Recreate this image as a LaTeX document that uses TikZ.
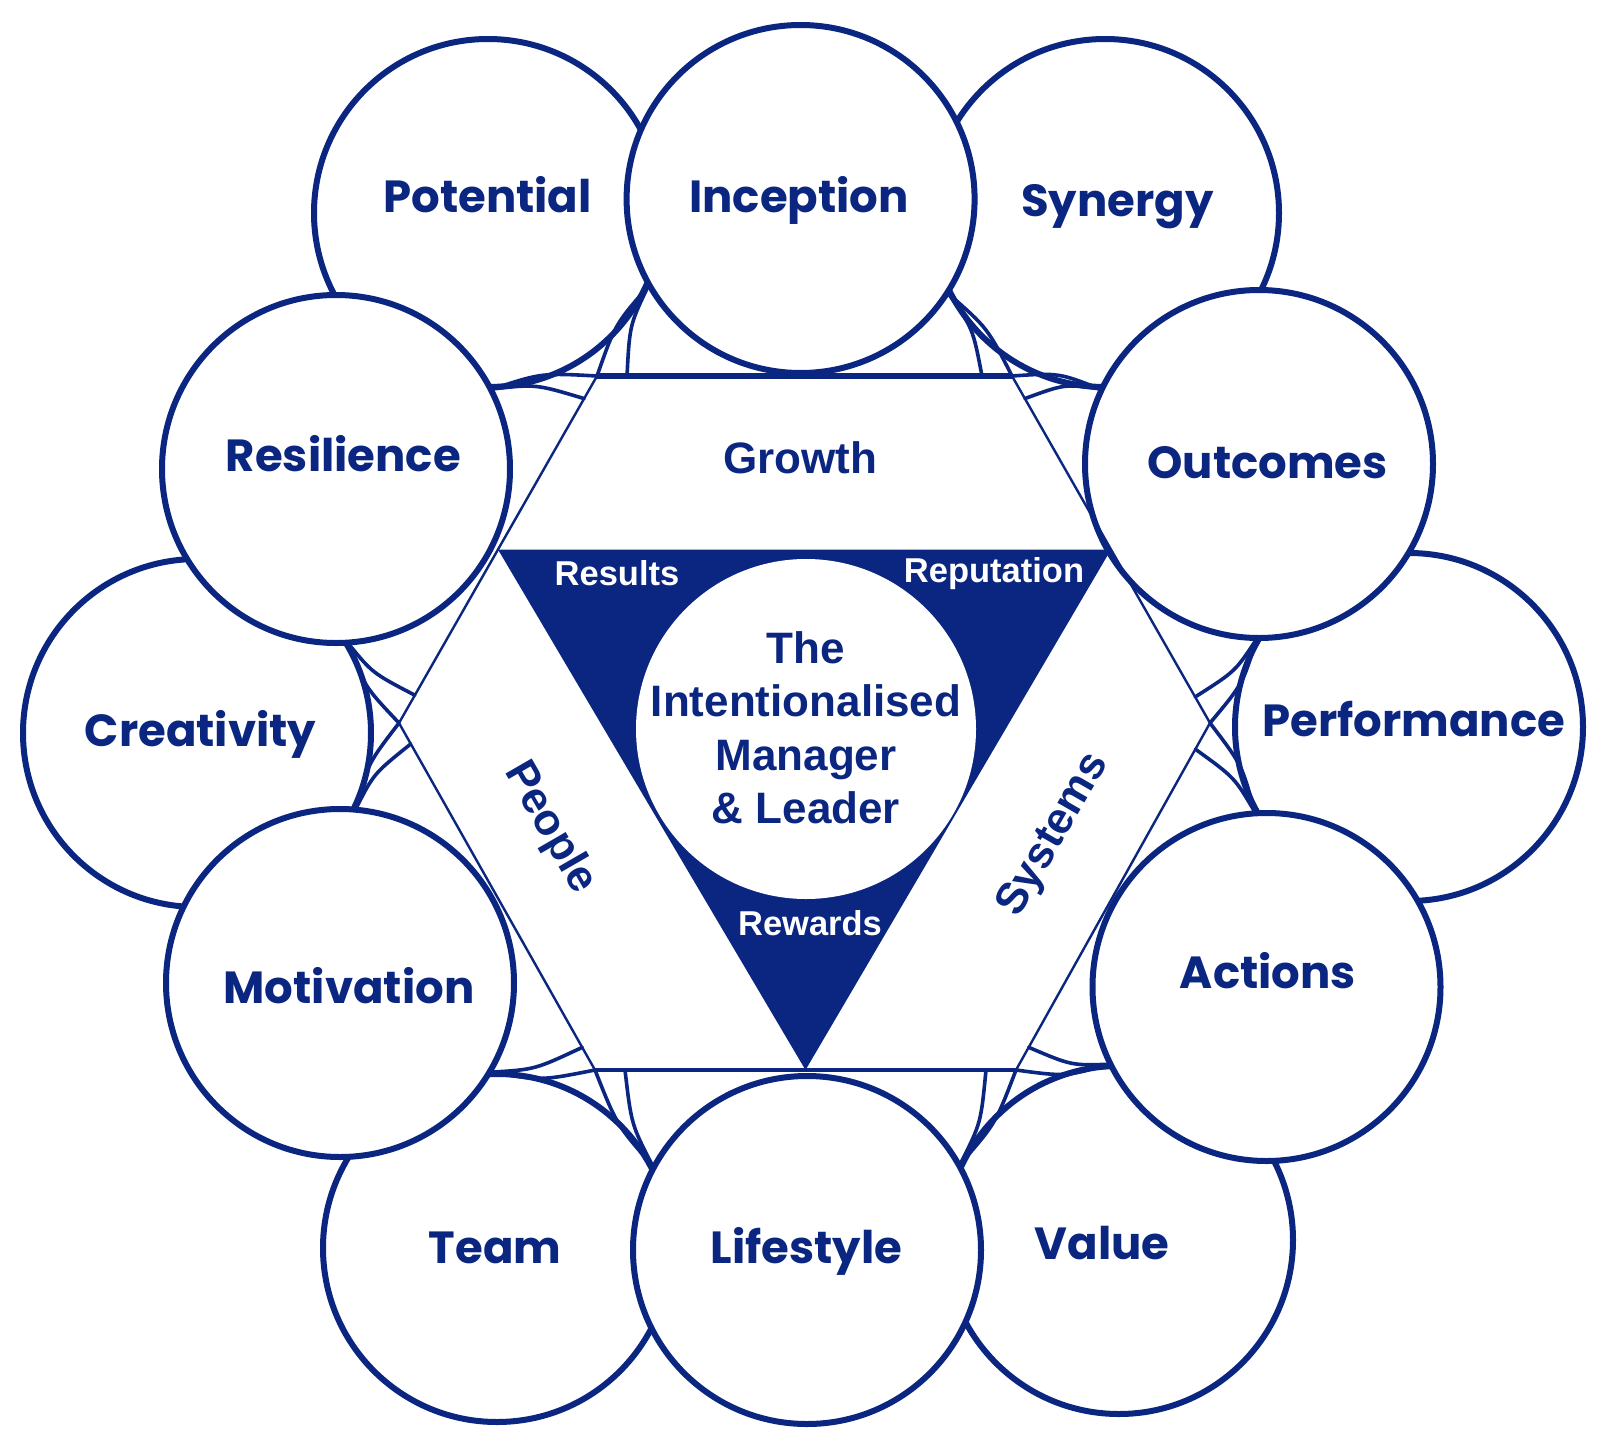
\documentclass[tikz,border=0pt]{standalone}
\usepackage{fontspec}
\usetikzlibrary{calc}
\newfontfamily\popfont{Poppins}
\newfontfamily\libfont{Liberation Sans}
\definecolor{navy}{RGB}{10,38,128}
\newcommand\webcurve[3]{%
  \path ($(#1)!0.5!(#2)$) coordinate (wmid);
  \draw[webl] (#1) .. controls ($(wmid)!10pt!(#3)$) .. (#2);
}
\begin{document}
\begin{tikzpicture}[x=1pt,y=-1pt,
  ring/.style={circle, draw=navy, line width=6pt, fill=white, minimum size=348pt, inner sep=0pt},
  lbl/.style={font=\popfont\bfseries\fontsize{45}{50}\selectfont, text=navy, anchor=base, inner sep=0pt},
  hexl/.style={draw=navy, line width=2.4pt, line join=miter},
  webl/.style={draw=navy, line width=3.6pt, line cap=round},
  bigtext/.style={font=\libfont\bfseries\fontsize{44}{53.5}\selectfont, text=navy, align=center, inner sep=0pt},
  tritext/.style={font=\libfont\bfseries\fontsize{34.5}{40}\selectfont, text=white, inner sep=0pt}]
\useasboundingbox (0,0) rectangle (1612,1440);
\fill[white] (0,0) rectangle (1612,1440);
% outer ring
\node[ring] (pot) at (488,213) {};
\node[ring] (syn) at (1105,213) {};
\node[ring] (per) at (1409,727) {};
\node[ring] (val) at (1119,1240) {};
\node[ring] (tea) at (497,1248) {};
\node[ring] (cre) at (197,733) {};
% inner ring
\node[ring] (inc) at (800.6,199) {};
\node[ring] (out) at (1259,464) {};
\node[ring] (act) at (1266.5,987) {};
\node[ring] (lif) at (807,1250) {};
\node[ring] (mot) at (340,983) {};
\node[ring] (res) at (336,469) {};
% hexagon vertices
\coordinate (v1) at (597,376);
\coordinate (v2) at (1012,376);
\coordinate (v3) at (1210,723);
\coordinate (v4) at (1016,1070);
\coordinate (v5) at (595,1070);
\coordinate (v6) at (399,723);
% circle junctions
\coordinate (jIP) at (648,286.5);
\coordinate (jRP) at (492.8,388.9);
\coordinate (jRK) at (349.1,644.5);
\coordinate (jMK) at (356.3,807.8);
\coordinate (jMT) at (491.8,1072.1);
\coordinate (jLT) at (652.5,1165.6);
\coordinate (jLV) at (960.4,1163.7);
\coordinate (jAV) at (1108.4,1064.3);
\coordinate (jAP) at (1254.5,811.4);
\coordinate (jOP) at (1256.1,639.9);
\coordinate (jOS) at (1099.9,388.9);
\coordinate (jIS) at (948.7,294);
% points near vertices
\coordinate (x1a) at ($(v1)!30pt!(v2)$);
\coordinate (x1b) at ($(v1)!26pt!(v6)$);
\coordinate (x2a) at ($(v2)!30pt!(v1)$);
\coordinate (x2b) at ($(v2)!26pt!(v3)$);
\coordinate (x3a) at ($(v3)!30pt!(v2)$);
\coordinate (x3b) at ($(v3)!30pt!(v4)$);
\coordinate (x4a) at ($(v4)!26pt!(v3)$);
\coordinate (x4b) at ($(v4)!30pt!(v5)$);
\coordinate (x5a) at ($(v5)!26pt!(v6)$);
\coordinate (x5b) at ($(v5)!30pt!(v4)$);
\coordinate (x6a) at ($(v6)!32pt!(v1)$);
\coordinate (x6b) at ($(v6)!24pt!(v5)$);
% webs
\webcurve{jIP}{v1}{pot} \webcurve{jRP}{v1}{pot} \webcurve{jIP}{x1a}{pot} \webcurve{jRP}{x1b}{pot}
\webcurve{jIS}{v2}{syn} \webcurve{jOS}{v2}{syn} \webcurve{jIS}{x2a}{syn} \webcurve{jOS}{x2b}{syn}
\webcurve{jOP}{v3}{per} \webcurve{jAP}{v3}{per} \webcurve{jOP}{x3a}{per} \webcurve{jAP}{x3b}{per}
\webcurve{jAV}{v4}{val} \webcurve{jLV}{v4}{val} \webcurve{jAV}{x4a}{val} \webcurve{jLV}{x4b}{val}
\webcurve{jMT}{v5}{tea} \webcurve{jLT}{v5}{tea} \webcurve{jMT}{x5a}{tea} \webcurve{jLT}{x5b}{tea}
\webcurve{jRK}{v6}{cre} \webcurve{jMK}{v6}{cre} \webcurve{jRK}{x6a}{cre} \webcurve{jMK}{x6b}{cre}
% hexagon
\draw[hexl] (v2) -- (v3) -- (v4);
\draw[hexl] (v5) -- (v6) -- (v1);
\draw[navy, line width=6pt] (v1) -- (v2);
\draw[navy, line width=4pt] (v4) -- (v5);
% triangle
\coordinate (tl) at ($(v6)!0.5!(v1)$);
\coordinate (tr) at ($(v2)!0.5!(v3)$);
\coordinate (tb) at ($(v4)!0.5!(v5)$);
\fill[navy] (tl) -- (tr) -- (tb) -- cycle;
\node[circle, fill=white, minimum size=340pt, inner sep=0pt] (core) at (806,729) {};
% texts
\node[bigtext] (ctext) at (806,728) {The\\Intentionalised\\Manager\\\& Leader};
\node[bigtext] (growth) at (800,457.5) {Growth};
\node[bigtext, rotate=-60] (people) at (550,828) {People};
\node[bigtext, rotate=60] (systems) at (1054,835) {Systems};
\node[tritext] (results) at (617,573.6) {Results};
\node[tritext] (reput) at (994,573.6) {Reputation};
\node[tritext] (rewards) at (810,923.6) {Rewards};
\node[lbl] (tpot) at (487.5,212.7) {Potential};
\node[lbl] (tinc) at (799,212) {Inception};
\node[lbl] (tsyn) at (1117.5,216) {Synergy};
\node[lbl] (tres) at (343.4,471) {Resilience};
\node[lbl] (tout) at (1267.6,478) {Outcomes};
\node[lbl] (tcre) at (200.5,746) {Creativity};
\node[lbl] (tper) at (1413.6,736) {Performance};
\node[lbl] (tmot) at (349,1003) {Motivation};
\node[lbl] (tact) at (1268,988) {Actions};
\node[lbl] (ttea) at (495,1263) {Team};
\node[lbl] (tlif) at (806.5,1263) {Lifestyle};
\node[lbl] (tval) at (1102,1259) {Value};
\end{tikzpicture}
\end{document}
